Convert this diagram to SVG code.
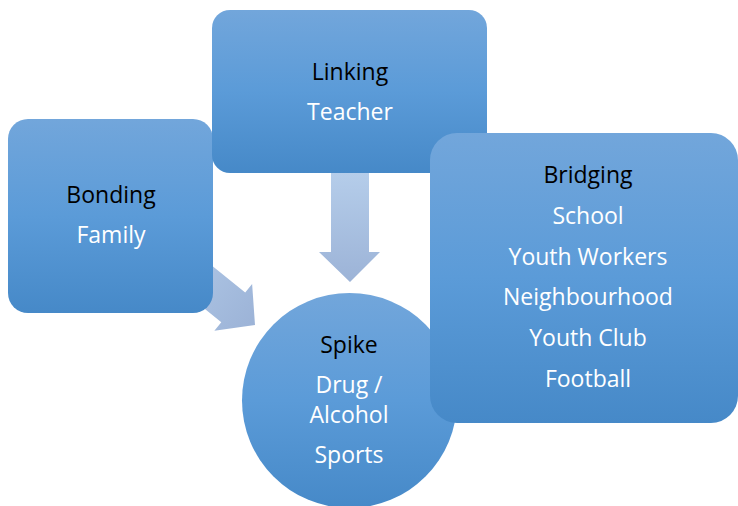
<svg xmlns="http://www.w3.org/2000/svg" width="738" height="506" viewBox="0 0 738 506">
<defs>
<linearGradient id="boxGrad" x1="0" y1="0" x2="0" y2="1">
<stop offset="0" stop-color="#72a6db"/>
<stop offset="0.5" stop-color="#5b9bd8"/>
<stop offset="1" stop-color="#4689c8"/>
</linearGradient>
<linearGradient id="arrowGradV" x1="0" y1="0" x2="0" y2="1">
<stop offset="0" stop-color="#b5cdea"/>
<stop offset="1" stop-color="#9cb3d7"/>
</linearGradient>
<linearGradient id="arrowGradH" x1="0" y1="0" x2="1" y2="0">
<stop offset="0" stop-color="#b5cdea"/>
<stop offset="1" stop-color="#9cb3d7"/>
</linearGradient>
<style>
.box{fill:url(#boxGrad);}
.head{font-family:"Open Sans","Noto Sans","Liberation Sans",sans-serif;font-size:23px;fill:#000;text-anchor:middle;}
.item{font-family:"Open Sans","Noto Sans","Liberation Sans",sans-serif;font-size:23px;fill:#fff;text-anchor:middle;}
</style>
</defs>
<g id="connectors">
<polygon fill="url(#arrowGradH)" transform="translate(255,325) rotate(39)" points="0,0 -28,-30 -28,-19 -130,-19 -130,19 -28,19 -28,30"/>
<polygon fill="url(#arrowGradV)" points="331,173 369,173 369,252 380,252 350,282 319,252 331,252"/>
</g>
<g id="bonding">
<rect class="box" x="8" y="119" width="205" height="194" rx="20"/>
<text class="head" x="111" y="203">Bonding</text>
<text class="item" x="111" y="243">Family</text>
</g>
<g id="linking">
<rect class="box" x="212" y="10" width="275" height="163" rx="18"/>
<text class="head" x="350" y="80">Linking</text>
<text class="item" x="350" y="120">Teacher</text>
</g>
<g id="spike">
<circle class="box" cx="349.5" cy="400.5" r="107.5"/>
<text class="head" x="349" y="353">Spike</text>
<text class="item" x="349" y="393">Drug /</text>
<text class="item" x="349" y="423">Alcohol</text>
<text class="item" x="349" y="463">Sports</text>
</g>
<g id="bridging">
<rect class="box" x="430" y="133" width="308" height="290" rx="27"/>
<text class="head" x="588" y="183">Bridging</text>
<text class="item" x="588" y="224">School</text>
<text class="item" x="588" y="265">Youth Workers</text>
<text class="item" x="588" y="305">Neighbourhood</text>
<text class="item" x="588" y="346">Youth Club</text>
<text class="item" x="588" y="387">Football</text>
</g>
</svg>
